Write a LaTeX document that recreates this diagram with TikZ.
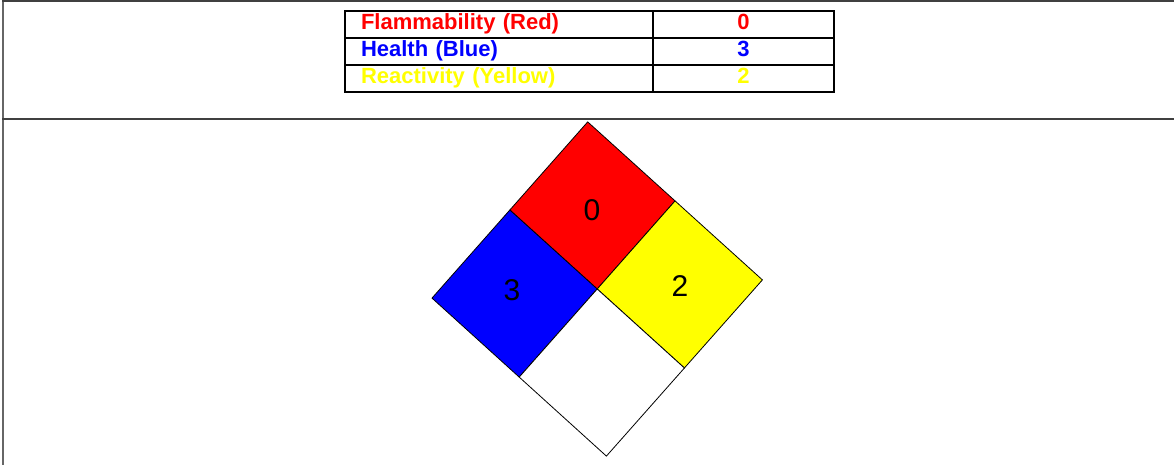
\documentclass[tikz,border=0pt]{standalone}
\usepackage{fontspec}
\setmainfont{Liberation Sans}
\usetikzlibrary{positioning,calc}

\definecolor{hazred}{RGB}{255,0,0}
\definecolor{hazblue}{RGB}{0,0,255}
\definecolor{hazyellow}{RGB}{255,255,0}

\tikzstyle{cell} = [draw=black, line width=1.3pt, outer sep=0pt, inner ysep=0pt, minimum height=27pt, text height=15.5pt, text depth=4.5pt, font=\fontsize{22}{24}\selectfont\bfseries]
\tikzstyle{hazard} = [cell, text width=276pt, inner xsep=16pt, align=left]
\tikzstyle{level} = [cell, minimum width=181pt, inner xsep=0pt]
\tikzstyle{rule} = [line width=2pt, draw=black!75]
\tikzstyle{quarter} = [draw=black, line width=0.8pt]
\tikzstyle{rating} = [font=\fontsize{30}{36}\selectfont]

\begin{document}
\begin{tikzpicture}[x=1pt, y=-1pt]
\useasboundingbox (0,0) rectangle (1174,465);
\draw[rule, draw=black!60] (2.5,0) -- (2.5,465);
\draw[rule] (2,1.5) -- (1174,1.5);
\draw[rule] (2,119) -- (1174,119);

\node[hazard, text=hazred, anchor=north west] (flam) at (345,11) {Flammability (Red)};
\node[level, text=hazred, right=0pt of flam] (flamv) {0};
\node[hazard, text=hazblue, below=0pt of flam] (heal) {Health (Blue)};
\node[level, text=hazblue, right=0pt of heal] (healv) {3};
\node[hazard, text=hazyellow, below=0pt of heal] (reac) {Reactivity (Yellow)};
\node[level, text=hazyellow, right=0pt of reac] (reacv) {2};

\coordinate (dmid) at (597.2,289);
\coordinate (dtop) at (587.7,121.9);
\coordinate (dright) at (762.4,279.9);
\coordinate (dbot) at (606.4,456.1);
\coordinate (dleft) at (432,298.1);
\filldraw[quarter, fill=hazred] (dtop) -- ($(dtop)!.5!(dright)$) -- (dmid) -- ($(dtop)!.5!(dleft)$) -- cycle;
\filldraw[quarter, fill=hazblue] (dleft) -- ($(dtop)!.5!(dleft)$) -- (dmid) -- ($(dbot)!.5!(dleft)$) -- cycle;
\filldraw[quarter, fill=hazyellow] (dright) -- ($(dtop)!.5!(dright)$) -- (dmid) -- ($(dbot)!.5!(dright)$) -- cycle;
\filldraw[quarter, fill=white] (dbot) -- ($(dbot)!.5!(dleft)$) -- (dmid) -- ($(dbot)!.5!(dright)$) -- cycle;

\node[rating] (flamd) at (592,210) {0};
\node[rating] (heald) at (512,290) {3};
\node[rating] (reacd) at (680,286) {2};
\end{tikzpicture}
\end{document}
